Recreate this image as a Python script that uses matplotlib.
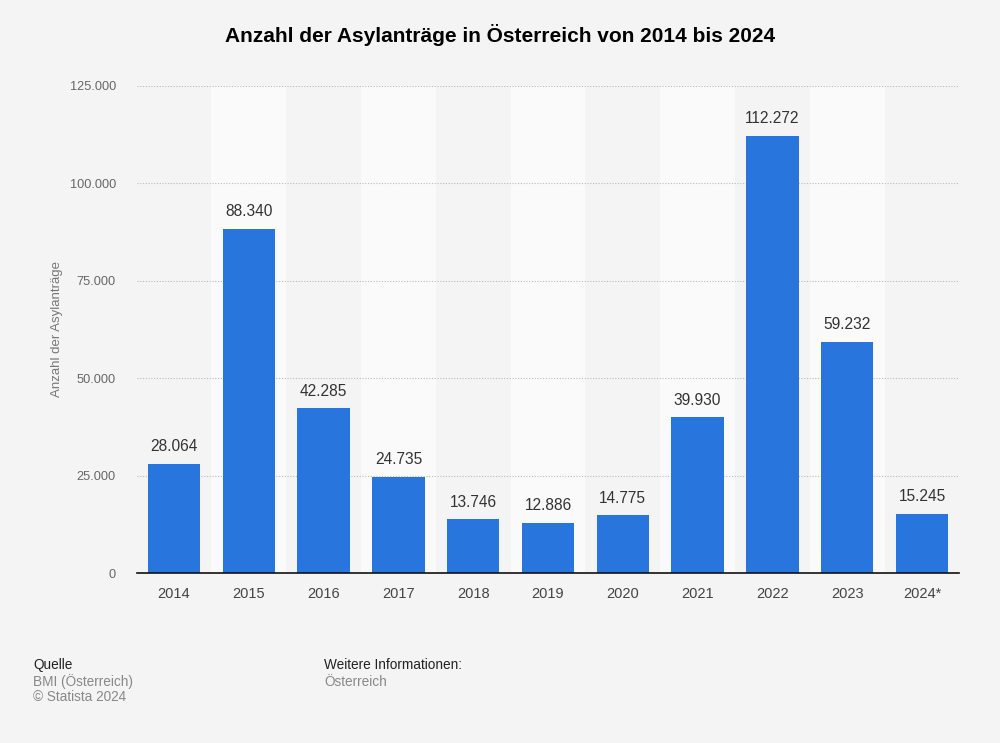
import matplotlib
matplotlib.use("Agg")
import matplotlib.pyplot as plt
from matplotlib.ticker import FuncFormatter

years = ["2014", "2015", "2016", "2017", "2018", "2019", "2020", "2021", "2022", "2023", "2024*"]
values = [28064, 88340, 42285, 24735, 13746, 12886, 14775, 39930, 112272, 59232, 15245]
yticks = [0, 25000, 50000, 75000, 100000, 125000]

plt.rcParams['font.family'] = ['Liberation Sans', 'DejaVu Sans']

BG = "#f4f4f4"
BAND = "#fafafa"
BAR = "#2876dd"

fig = plt.figure(figsize=(10, 7.43), dpi=100, facecolor=BG)
ax = fig.add_axes([0.1366, 0.2288, 0.8228, 0.6555])
ax.set_facecolor(BG)

x = list(range(len(years)))
for i in x:
    if i % 2 == 1:
        ax.axvspan(i - 0.5, i + 0.5, color=BAND, zorder=0, lw=0)

ax.bar(x, values, width=0.7, color=BAR, zorder=3)

def fmt(v):
    return f"{int(v):,}".replace(",", ".")

for xi, v in zip(x, values):
    ax.annotate(fmt(v), (xi, v), xytext=(0, 7), textcoords="offset points",
                ha="center", va="bottom", fontsize=11.2, color="#333333", zorder=4)

ax.set_xlim(-0.5, len(years) - 0.5)
ax.set_ylim(0, 125000)
ax.set_yticks(yticks)
ax.yaxis.set_major_formatter(FuncFormatter(lambda v, p: fmt(v)))
ax.set_xticks(x)
ax.set_xticklabels(years)
ax.tick_params(axis="both", length=0, colors="#666666", labelsize=9.2)
ax.tick_params(axis="x", pad=10, labelcolor="#444444", labelsize=10.5)
ax.tick_params(axis="y", pad=15)
for t in ax.get_yticklabels():
    t.set_color("#666666")

ax.grid(axis="y", linestyle=(0, (1, 1.5)), color="#bbbbbb", linewidth=0.8, zorder=1)
for s in ["top", "right", "left"]:
    ax.spines[s].set_visible(False)
ax.spines["bottom"].set_color("#111111")
ax.spines["bottom"].set_linewidth(1.2)
ax.spines["bottom"].set_zorder(5)

ax.set_ylabel("Anzahl der Asylanträge", color="#777777", fontsize=9.5, labelpad=5)

fig.text(0.5, 1 - 35 / 743, "Anzahl der Asylanträge in Österreich von 2014 bis 2024",
         ha="center", va="center", fontsize=15, fontweight="bold", color="#000000")

fs = 9.8
fig.text(0.033, 1 - 665 / 743, "Quelle", ha="left", va="center", fontsize=fs, color="#222222")
fig.text(0.033, 1 - 682 / 743, "BMI (Österreich)", ha="left", va="center", fontsize=fs, color="#888888")
fig.text(0.033, 1 - 697 / 743, "© Statista 2024", ha="left", va="center", fontsize=fs, color="#888888")
fig.text(0.324, 1 - 665 / 743, "Weitere Informationen:", ha="left", va="center", fontsize=fs, color="#222222")
fig.text(0.324, 1 - 682 / 743, "Österreich", ha="left", va="center", fontsize=fs, color="#888888")

fig.savefig("out.png", dpi=100, facecolor=BG)
